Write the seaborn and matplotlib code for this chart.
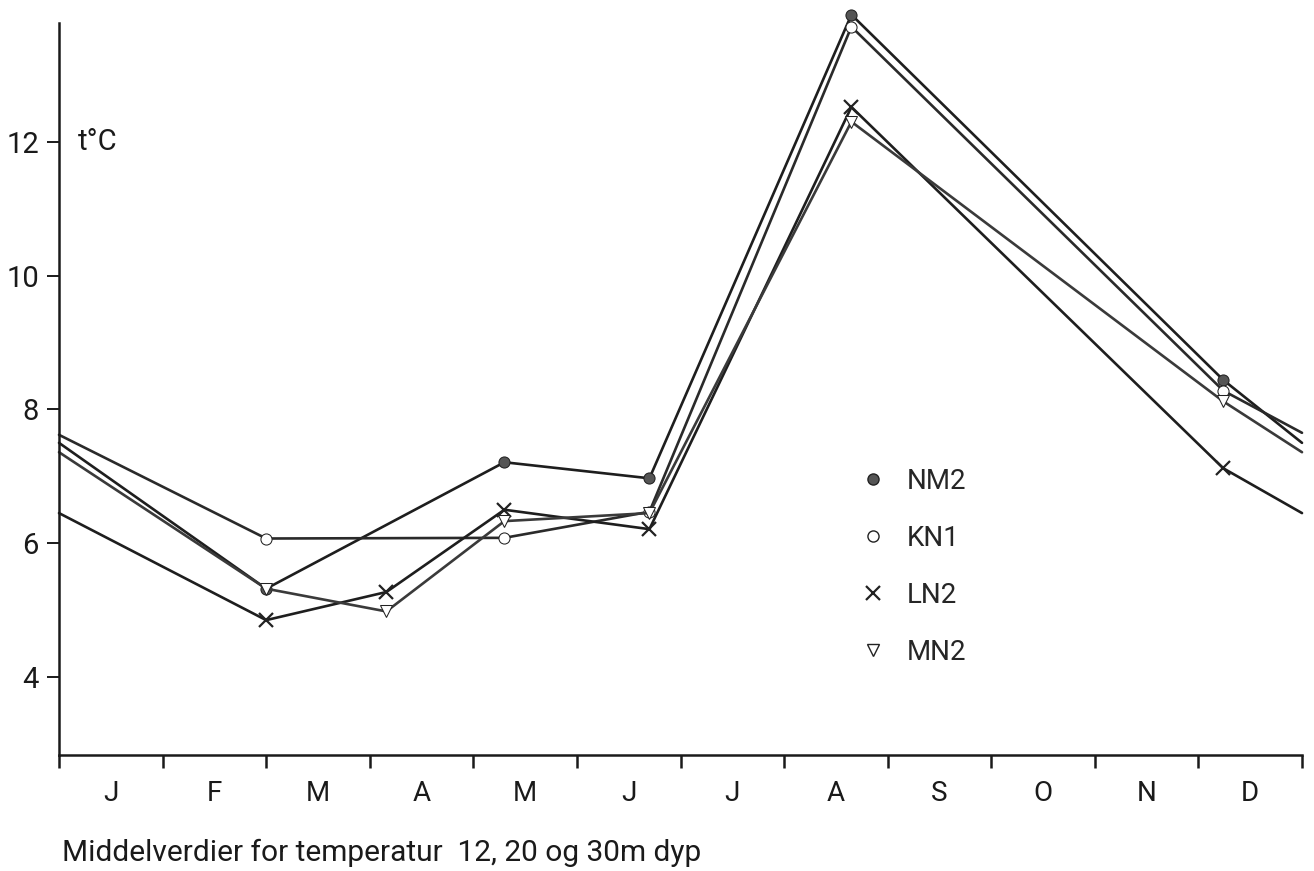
import numpy as np
import pandas as pd
import seaborn as sns
import matplotlib.pyplot as plt
from matplotlib.lines import Line2D
from matplotlib.ticker import FixedLocator

# month position (0 = 1 Jan, 12 = 31 Dec) of each observation
month_pos = [0.0, 2.0, 3.16, 4.30, 5.70, 7.65, 11.24, 12.0]

nm2 = [7.50, 5.32, np.nan, 7.21, 6.97, 13.90, 8.44, 7.50]
kn1 = [7.62, 6.07, np.nan, 6.08, 6.47, 13.72, 8.28, 7.65]
ln2 = [6.45, 4.85, 5.27, 6.50, 6.21, 12.52, 7.12, 6.45]
mn2 = [7.36, 5.32, 4.98, 6.33, 6.45, 12.30, 8.12, 7.36]

stations = ['NM2', 'KN1', 'LN2', 'MN2']
month_labels = ['J', 'F', 'M', 'A', 'M', 'J', 'J', 'A', 'S', 'O', 'N', 'D']
y_ticks = [4, 6, 8, 10, 12]

df = pd.DataFrame({'x': month_pos * 4,
                   'temp': nm2 + kn1 + ln2 + mn2,
                   'station': np.repeat(stations, len(month_pos))}).dropna()

# marker look per station
styles = {
    'NM2': dict(marker='o', mfc='#555555', mec='#222222', ms=8),
    'KN1': dict(marker='o', mfc='white', mec='#222222', ms=8),
    'LN2': dict(marker='x', mfc='none', mec='#222222', ms=10, mew=1.6),
    'MN2': dict(marker='v', mfc='white', mec='#222222', ms=9),
}
line_colors = {'NM2': '#1e1e1e', 'KN1': '#2a2a2a', 'LN2': '#1e1e1e', 'MN2': '#3a3a3a'}

sns.set_theme(style='white')
plt.rcParams['font.family'] = ['Roboto', 'DejaVu Sans']

fig = plt.figure(figsize=(13.14, 8.71), dpi=100)
ax = fig.add_axes([59 / 1314, 1 - 755 / 871, 1243 / 1314, 747 / 871])

for st in stations:
    sub = df[df['station'] == st]
    # the year-end points are where the lines meet the frame: no marker there
    sns.lineplot(data=sub, x='x', y='temp', ax=ax, color=line_colors[st],
                 lw=1.9, sort=False, estimator=None, clip_on=False,
                 markevery=list(range(1, len(sub) - 1)), **styles[st])

ax.set_xlim(0, 12)
ax.set_ylim(2.834, 14.0)
ax.set_xlabel('')
ax.set_ylabel('')

sns.despine(ax=ax)
ax.spines['left'].set_bounds(2.834, 13.78)
for s in ['left', 'bottom']:
    ax.spines[s].set_linewidth(1.8)
    ax.spines[s].set_color('#1a1a1a')

ax.set_yticks(y_ticks)
ax.set_yticklabels([str(v) for v in y_ticks], fontsize=21)
ax.tick_params(axis='y', direction='out', length=8.5, width=1.4, pad=6,
               left=True, colors='#1a1a1a')

ax.xaxis.set_major_locator(FixedLocator(np.arange(12) + 0.5))
ax.xaxis.set_minor_locator(FixedLocator(np.arange(13)))
ax.set_xticklabels(month_labels, fontsize=20)
ax.tick_params(axis='x', which='major', length=0, pad=18, colors='#1a1a1a')
ax.tick_params(axis='x', which='minor', direction='out', length=9.5,
               width=1.8, bottom=True, color='#1a1a1a')

ax.text(0.18, 12, 't°C', fontsize=21, va='center', ha='left', color='#1a1a1a')

handles = [Line2D([], [], linestyle='none', color='#222222', **styles[st])
           for st in stations]
ax.legend(handles, stations, frameon=False, fontsize=20,
          loc='upper left', bbox_to_anchor=(848 / 1314, 1 - 454 / 871),
          bbox_transform=fig.transFigure, handlelength=0.8,
          handletextpad=0.8, labelspacing=1.08, borderpad=0)

fig.text(62 / 1314, 1 - 853 / 871,
         'Middelverdier for temperatur  12, 20 og 30m dyp',
         fontsize=21.5, va='center', ha='left', color='#1a1a1a')

fig.savefig('out.png', dpi=100)
